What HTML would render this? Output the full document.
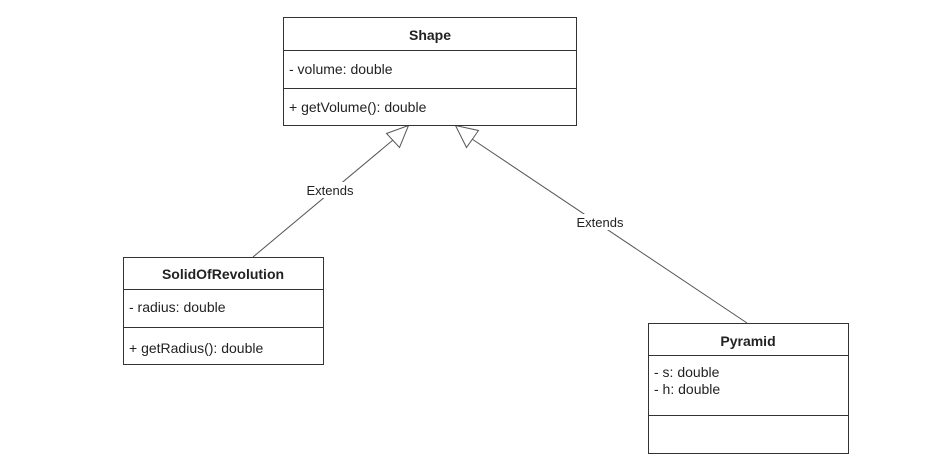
<!DOCTYPE html>
<html><head><style>
body{margin:0;width:944px;height:470px;background:#fff;overflow:hidden;font-family:"Liberation Sans",sans-serif;}
</style></head><body>
<svg width="944" height="470" xmlns="http://www.w3.org/2000/svg" font-family="Liberation Sans, sans-serif" font-size="14" fill="#222">
<g stroke="#333" stroke-width="1" fill="none">
<line x1="253" y1="257" x2="393" y2="140" stroke="#555"/>
<line x1="747" y1="323" x2="472" y2="139" stroke="#555"/>
<polygon points="408.5,125.5 386.5,133.5 399.5,147.5" fill="#fff" stroke="#555"/>
<polygon points="455.5,125.5 478.5,130.5 466.5,147.5" fill="#fff" stroke="#555"/>
<rect x="283.5" y="17.5" width="293" height="108" fill="#fff"/>
<line x1="283.5" y1="50.5" x2="576.5" y2="50.5"/>
<line x1="283.5" y1="88.5" x2="576.5" y2="88.5"/>
<rect x="123.5" y="257.5" width="200" height="107" fill="#fff"/>
<line x1="123.5" y1="289.5" x2="323.5" y2="289.5"/>
<line x1="123.5" y1="327.5" x2="323.5" y2="327.5"/>
<rect x="648.5" y="323.5" width="200" height="130" fill="#fff"/>
<line x1="648.5" y1="355.5" x2="848.5" y2="355.5"/>
<line x1="648.5" y1="415.5" x2="848.5" y2="415.5"/>
</g>
<rect x="302" y="182" width="56" height="16" fill="#fff"/>
<rect x="572" y="214" width="56" height="16" fill="#fff"/>
<text x="330" y="195" text-anchor="middle" font-size="13">Extends</text>
<text x="600" y="227" text-anchor="middle" font-size="13">Extends</text>
<text x="430" y="40" text-anchor="middle" font-weight="bold">Shape</text>
<text x="289" y="74">- volume: double</text>
<text x="289" y="112">+ getVolume(): double</text>
<text x="223" y="279" text-anchor="middle" font-weight="bold">SolidOfRevolution</text>
<text x="129" y="312">- radius: double</text>
<text x="129" y="353">+ getRadius(): double</text>
<text x="748" y="346" text-anchor="middle" font-weight="bold">Pyramid</text>
<text x="654" y="377">- s: double</text>
<text x="654" y="394">- h: double</text>
</svg>
</body></html>
